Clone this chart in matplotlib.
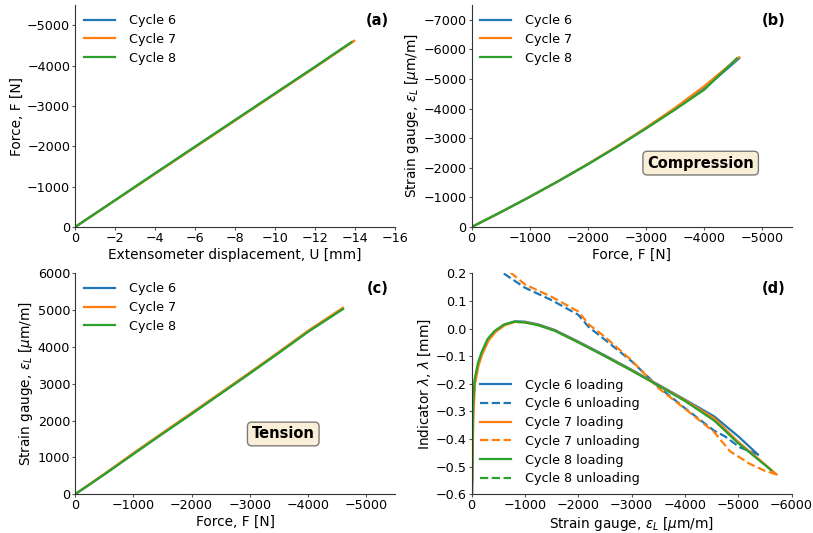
import numpy as np
import matplotlib
matplotlib.use('Agg')
import matplotlib.pyplot as plt

# (a) fuerza vs desplazamiento extensometro
u6 = [0, -2, -4, -6, -8, -10, -12, -13.85]
f6 = [0, -665, -1330, -1990, -2650, -3310, -3970, -4590]
u7 = [0, -2, -4, -6, -8, -10, -12, -13.95]
f7 = [0, -660, -1320, -1980, -2640, -3300, -3960, -4615]
u8 = [0, -2, -4, -6, -8, -10, -12, -13.8]
f8 = [0, -665, -1332, -1995, -2655, -3315, -3975, -4580]

# (b) compresion
fb = [0, -500, -1000, -1500, -2000, -2500, -3000, -3500, -4000, -4600]
eb6 = [0, -500, -1020, -1560, -2130, -2720, -3340, -3990, -4680, -5700]
eb7 = [0, -500, -1020, -1560, -2130, -2730, -3360, -4030, -4760, -5740]
fb8 = [0, -500, -1000, -1500, -2000, -2500, -3000, -3500, -4000, -4560]
eb8 = [0, -500, -1020, -1560, -2120, -2710, -3330, -3970, -4640, -5700]

# (c) traccion
fc = [0, -500, -1000, -1500, -2000, -2500, -3000, -3500, -4000, -4600]
ec6 = [0, 540, 1100, 1650, 2190, 2740, 3290, 3850, 4420, 5040]
ec7 = [0, 550, 1115, 1665, 2210, 2755, 3305, 3865, 4440, 5065]
ec8 = [0, 535, 1090, 1640, 2180, 2730, 3280, 3840, 4410, 5030]

# (d) indicador lambda
ld6_x = [-3, -8, -30, -60, -125, -190, -310, -440, -620, -810, -1000, -1250, -1560,
         -2000, -2500, -3000, -3500, -4000, -4550, -5000, -5370]
ld6_y = [0.5, -0.62, -0.29, -0.19, -0.13, -0.09, -0.04, -0.01, 0.014, 0.026, 0.025, 0.015,
         -0.005, -0.047, -0.097, -0.149, -0.203, -0.257, -0.318, -0.39, -0.456]
ld7_x = [-3, -10, -35, -65, -130, -200, -320, -450, -630, -820, -1000, -1250, -1560,
         -2000, -2500, -3000, -3500, -4000, -4550, -5000, -5400, -5720]
ld7_y = [0.5, -0.56, -0.31, -0.2, -0.135, -0.093, -0.043, -0.012, 0.013, 0.024, 0.023, 0.013,
         -0.007, -0.049, -0.099, -0.151, -0.205, -0.259, -0.325, -0.41, -0.475, -0.528]
ld8_x = [-2, -6, -28, -58, -120, -185, -300, -430, -610, -800, -1000, -1250, -1560,
         -2000, -2500, -3000, -3500, -4000, -4550, -5000, -5400, -5620]
ld8_y = [0.5, -0.65, -0.28, -0.185, -0.125, -0.087, -0.038, -0.009, 0.015, 0.025, 0.022, 0.012,
         -0.008, -0.05, -0.1, -0.152, -0.206, -0.262, -0.333, -0.415, -0.478, -0.513]
ul6_x = [-5370, -5030, -4750, -4550, -4000, -3500, -3000, -2500, -2200, -2000, -1500, -1000, -600, -300]
ul6_y = [-0.456, -0.43, -0.39, -0.37, -0.288, -0.21, -0.118, -0.04, 0.005, 0.05, 0.103, 0.148, 0.2, 0.26]
ul7_x = [-5720, -5500, -5220, -4850, -4550, -4000, -3500, -3000, -2500, -2200, -2000, -1500, -1000, -750, -400]
ul7_y = [-0.528, -0.515, -0.49, -0.445, -0.375, -0.29, -0.215, -0.115, -0.03, 0.015, 0.062, 0.115, 0.16, 0.2, 0.26]
ul8_x = [-10, -5]
ul8_y = [0.3, 0.6]

plt.rcParams['font.size'] = 9.2
plt.rcParams['axes.labelsize'] = 9.8
plt.rcParams['axes.labelpad'] = 2
plt.rcParams['axes.edgecolor'] = '#333333'
for k in ['xtick', 'ytick']:
    plt.rcParams[k + '.major.size'] = 2
    plt.rcParams[k + '.major.pad'] = 1.5
    plt.rcParams[k + '.color'] = '#555555'
    plt.rcParams[k + '.labelcolor'] = 'black'

fig = plt.figure(figsize=(8.13, 5.33), dpi=100)
ax_a = fig.add_axes([0.0923, 0.574, 0.394, 0.4165])
ax_b = fig.add_axes([0.580, 0.574, 0.3936, 0.4165])
ax_c = fig.add_axes([0.0923, 0.0726, 0.394, 0.4146])
ax_d = fig.add_axes([0.580, 0.0726, 0.3936, 0.4146])

lw = 1.6
ax_a.plot(u6, f6, color='C0', lw=lw, label='Cycle 6')
ax_a.plot(u7, f7, color='C1', lw=lw, label='Cycle 7')
ax_a.plot(u8, f8, color='C2', lw=lw, label='Cycle 8')
ax_a.set_xlim(0, -16)
ax_a.set_ylim(0, -5500)
ax_a.set_xticks(np.arange(0, -17, -2))
ax_a.set_xlabel('Extensometer displacement, U [mm]')
ax_a.set_ylabel('Force, F [N]')

ax_b.plot(fb, eb6, color='C0', lw=lw, label='Cycle 6')
ax_b.plot(fb, eb7, color='C1', lw=lw, label='Cycle 7')
ax_b.plot(fb8, eb8, color='C2', lw=lw, label='Cycle 8')
ax_b.set_xlim(0, -5500)
ax_b.set_ylim(0, -7500)
ax_b.set_yticks(np.arange(0, -7001, -1000))
ax_b.set_xlabel('Force, F [N]')
ax_b.set_ylabel(r'Strain gauge, $\varepsilon_L$ [$\mu$m/m]')

ax_c.plot(fc, ec6, color='C0', lw=lw, label='Cycle 6')
ax_c.plot(fc, ec7, color='C1', lw=lw, label='Cycle 7')
ax_c.plot(fc, ec8, color='C2', lw=lw, label='Cycle 8')
ax_c.set_xlim(0, -5500)
ax_c.set_ylim(0, 6000)
ax_c.set_xlabel('Force, F [N]')
ax_c.set_ylabel(r'Strain gauge, $\varepsilon_L$ [$\mu$m/m]')

ax_d.plot(ld6_x, ld6_y, color='C0', lw=lw, label='Cycle 6 loading')
ax_d.plot(ul6_x, ul6_y, color='C0', lw=lw, ls='--', label='Cycle 6 unloading')
ax_d.plot(ld7_x, ld7_y, color='C1', lw=lw, label='Cycle 7 loading')
ax_d.plot(ul7_x, ul7_y, color='C1', lw=lw, ls='--', label='Cycle 7 unloading')
ax_d.plot(ld8_x, ld8_y, color='C2', lw=lw, label='Cycle 8 loading')
ax_d.plot(ul8_x, ul8_y, color='C2', lw=lw, ls='--', label='Cycle 8 unloading')
ax_d.set_xlim(0, -6000)
ax_d.set_ylim(-0.6, 0.2)
ax_d.set_xlabel(r'Strain gauge, $\varepsilon_L$ [$\mu$m/m]')
ax_d.set_ylabel(r'Indicator $\lambda$, $\lambda$ [mm]')

for ax, lab in zip([ax_a, ax_b, ax_c, ax_d], ['(a)', '(b)', '(c)', '(d)']):
    ax.spines['top'].set_visible(False)
    ax.spines['right'].set_visible(False)
    ax.text(0.98, 0.965, lab, transform=ax.transAxes, ha='right', va='top',
            fontsize=10.5, fontweight='bold')

for ax in [ax_a, ax_b, ax_c]:
    ax.legend(loc='upper left', frameon=False, handlelength=2.4, handletextpad=1.1,
              borderaxespad=0.3, labelspacing=0.45)
ax_d.legend(loc='lower left', frameon=False, handlelength=2.4, handletextpad=1.1,
            borderaxespad=0.3, labelspacing=0.45)

caja = dict(boxstyle='round', facecolor='wheat', alpha=0.5)
ax_b.text(0.716, 0.288, 'Compression', transform=ax_b.transAxes, ha='center', va='center',
          fontsize=10.5, fontweight='bold', bbox=caja)
ax_c.text(0.65, 0.273, 'Tension', transform=ax_c.transAxes, ha='center', va='center',
          fontsize=10.5, fontweight='bold', bbox=caja)

fig.savefig('out.png', dpi=100)
